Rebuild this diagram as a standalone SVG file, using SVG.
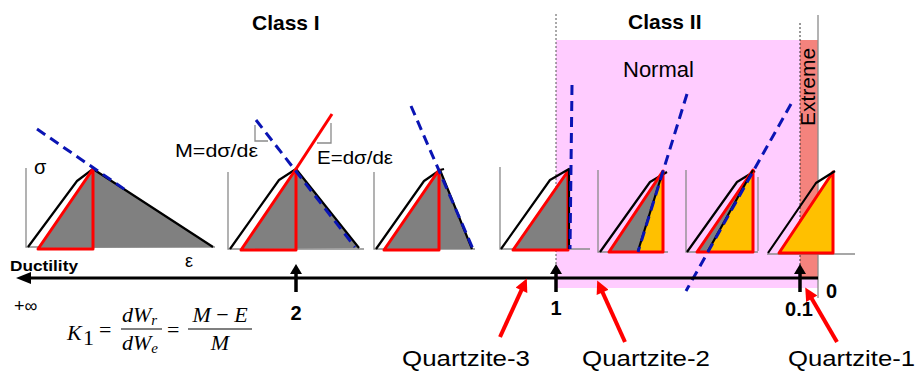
<svg xmlns="http://www.w3.org/2000/svg" width="920" height="373" viewBox="0 0 920 373">
<style>
.ax{stroke:#8a8a8a;stroke-width:1.3;fill:none}
.gr{fill:#808080;stroke:none}
.or{fill:#FFC000;stroke:none}
.bk{stroke:#000;stroke-width:2.2;fill:none;stroke-linejoin:round}
.rd{stroke:#FF0000;stroke-width:3;fill:none;stroke-linejoin:round}
.bl{stroke:#0A14B4;stroke-width:3;fill:none;stroke-dasharray:10 6}
.br{stroke:#8a8a8a;stroke-width:1.3;fill:none}
.t{font-family:"Liberation Sans",Arial,sans-serif;fill:#000}
.b{font-family:"Liberation Sans",Arial,sans-serif;font-weight:bold;fill:#000}
.m{font-family:"Liberation Serif","Times New Roman",serif;font-size:22px;fill:#000}
.q{stroke:#FF0000;stroke-width:4;fill:none}
</style>
<defs>
<marker id="ra" viewBox="0 0 10 10" refX="5" refY="5" markerWidth="14" markerHeight="13" markerUnits="userSpaceOnUse" orient="auto">
<path d="M0,0 L10,5 L0,10 z" fill="#FF0000"/>
</marker>
</defs>
<rect width="920" height="373" fill="#fff"/>
<g id="class2-region">
<rect x="556" y="40" width="262" height="248" fill="#FFCCFF"/>
<rect x="800" y="40" width="18" height="238" fill="#F4837D"/>
<line x1="556" y1="14" x2="556" y2="278" stroke="#555" stroke-width="1" stroke-dasharray="2 2"/>
<line x1="800" y1="23" x2="800" y2="278" stroke="#333" stroke-width="1" stroke-dasharray="2 2"/>
<line x1="818" y1="15" x2="818" y2="298" stroke="#8a8a8a" stroke-width="1.3"/>
</g>
<g id="titles">
<text class="b" x="252" y="30" font-size="21">Class I</text>
<text class="b" x="628" y="29" font-size="21">Class II</text>
<text class="t" x="623" y="77" font-size="22">Normal</text>
<text class="t" transform="translate(815,87) rotate(-90)" font-size="21" text-anchor="middle">Extreme</text>
</g>
<g id="panel1">
<polyline class="ax" points="26,168 26,247 215,247"/>
<polygon class="gr" points="38,248 93,169 213,247"/>
<polyline class="bk" points="28,247 77,181 93,169 213,247"/>
<polygon class="rd" points="38,249 93,169 93,249"/>
<line class="bl" x1="37" y1="129" x2="127" y2="191"/>
<text class="t" x="34" y="174" font-size="20">σ</text>
<text class="t" x="185" y="267" font-size="18">ε</text>
</g>
<g id="panel2">
<polyline class="ax" points="228,172 228,249 364,249"/>
<polygon class="gr" points="241,249 296,169 358,248"/>
<polyline class="bk" points="230,249 279,180 296,169 359,248"/>
<polygon class="rd" points="241,250 296,169 296,250"/>
<line class="rd" x1="296" y1="169" x2="332" y2="114"/>
<line class="bl" x1="256" y1="120" x2="355" y2="247"/>
<polyline class="br" points="255,125 255,141 268,141"/>
<polyline class="br" points="317,143 331,143 331,123"/>
<text class="t" x="175" y="157" font-size="18" textLength="83" lengthAdjust="spacingAndGlyphs">M=dσ/dε</text>
<text class="t" x="317" y="164" font-size="18" textLength="76" lengthAdjust="spacingAndGlyphs">E=dσ/dε</text>
</g>
<g id="panel3">
<polyline class="ax" points="374,172 374,249 475,249"/>
<polygon class="gr" points="384,249 440,170 472,249"/>
<polyline class="bk" points="376,249 424,181 440,170 472,249"/>
<line class="bk" x1="440" y1="170" x2="444" y2="169"/>
<polygon class="rd" points="384,250 439,170 439,250"/>
<line class="bl" x1="411" y1="106" x2="473" y2="249"/>
</g>
<g id="panel4">
<polyline class="ax" points="500,167 500,249 590,249"/>
<polygon class="gr" points="513,249 569,169 569,249"/>
<polygon class="rd" points="513,250 568,171 568,250"/>
<polyline class="bk" points="501,249 550,180 569,169 569,249"/>
<line class="bl" x1="572" y1="85" x2="570" y2="249"/>
</g>
<g id="panel5">
<polyline class="ax" points="598,170 598,252 668,252"/>
<polygon class="gr" points="609,251 663,171 638,251"/>
<polygon class="or" points="638,251 663,171 663,251"/>
<polyline class="bk" points="600,252 650,182 667,172"/>
<polygon class="rd" points="609,252 663,171 663,252"/>
<line class="bk" x1="638" y1="251" x2="663" y2="171" stroke-width="2.6"/>
<line class="bl" x1="687" y1="94" x2="638" y2="252"/>
</g>
<g id="panel6">
<polyline class="ax" points="686,170 686,252 758,252"/>
<polygon class="gr" points="697,251 753,170 708,251"/>
<polygon class="or" points="708,251 753,170 753,251"/>
<polyline class="bk" points="687,252 737,182 755,171"/>
<polygon class="rd" points="697,252 753,170 753,252"/>
<line class="bk" x1="708" y1="251" x2="753" y2="170" stroke-width="2.6"/>
<line class="bl" x1="791" y1="104" x2="686" y2="291"/>
</g>
<g id="panel7">
<line class="ax" x1="758" y1="177" x2="758" y2="251"/>
<line class="ax" x1="767" y1="254" x2="855" y2="254"/>
<polygon class="or" points="779,253 833,172 833,253"/>
<polygon class="rd" points="779,253 833,172 833,253"/>
<polyline class="bk" points="768,253 816,183 835,171"/>
</g>
<g id="connectors">
<line x1="28" y1="278" x2="818" y2="278" stroke="#000" stroke-width="3"/>
<polygon points="16,278 31,272 31,284" fill="#000"/>
<line x1="296" y1="292" x2="296" y2="271" stroke="#000" stroke-width="3.5"/>
<polygon points="290,274 302,274 296,264" fill="#000"/>
<line x1="556" y1="292" x2="556" y2="271" stroke="#000" stroke-width="3.5"/>
<polygon points="550,274 562,274 556,264" fill="#000"/>
<line x1="800" y1="292" x2="800" y2="271" stroke="#000" stroke-width="3.5"/>
<polygon points="794,274 806,274 800,264" fill="#000"/>
<line class="q" x1="500" y1="337" x2="524.1" y2="284.4" marker-end="url(#ra)"/>
<line class="q" x1="625" y1="342" x2="599.9" y2="286.4" marker-end="url(#ra)"/>
<line class="q" x1="837" y1="342" x2="808.5" y2="293.1" marker-end="url(#ra)"/>
</g>
<g id="axis-labels">
<text class="b" x="10" y="271" font-size="15" textLength="68" lengthAdjust="spacingAndGlyphs">Ductility</text>
<text class="t" x="14" y="312" font-size="18">+∞</text>
<text class="b" x="296" y="320" font-size="20" text-anchor="middle">2</text>
<text class="b" x="556" y="315" font-size="20" text-anchor="middle">1</text>
<text class="b" x="799" y="316" font-size="20" text-anchor="middle">0.1</text>
<text class="b" x="826" y="298" font-size="20">0</text>
</g>
<g id="formula">
<text class="m" x="67" y="340" font-style="italic">K</text>
<text class="m" x="83" y="345" font-size="15">1</text>
<text class="m" x="99" y="337">=</text>
<text class="m" x="122" y="322" font-style="italic">dW<tspan font-size="15" dy="3">r</tspan></text>
<line x1="121" y1="329" x2="162" y2="329" stroke="#000" stroke-width="1.2"/>
<text class="m" x="122" y="350" font-style="italic">dW<tspan font-size="15" dy="3">e</tspan></text>
<text class="m" x="167" y="337">=</text>
<text class="m" x="220" y="322" text-anchor="middle"><tspan font-style="italic">M</tspan> − <tspan font-style="italic">E</tspan></text>
<line x1="188" y1="329" x2="252" y2="329" stroke="#000" stroke-width="1.2"/>
<text class="m" x="220" y="350" text-anchor="middle" font-style="italic">M</text>
</g>
<g id="quartzite-labels">
<text class="t" x="402" y="366" font-size="22" textLength="128" lengthAdjust="spacingAndGlyphs">Quartzite-3</text>
<text class="t" x="582" y="366" font-size="22" textLength="128" lengthAdjust="spacingAndGlyphs">Quartzite-2</text>
<text class="t" x="788" y="366" font-size="22" textLength="127" lengthAdjust="spacingAndGlyphs">Quartzite-1</text>
</g>
</svg>
